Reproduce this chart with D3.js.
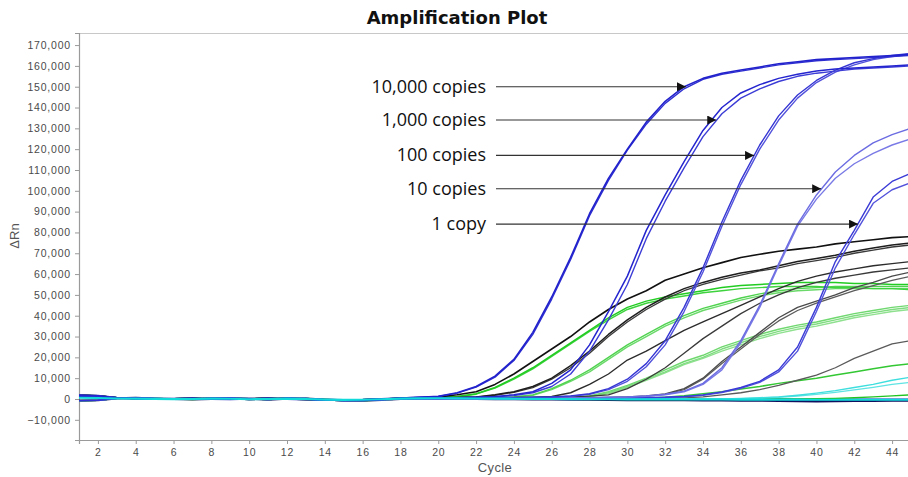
<!DOCTYPE html>
<html>
<head>
<meta charset="utf-8">
<script src="https://cdn.jsdelivr.net/npm/d3@7"></script>
<style>
  html, body { margin: 0; padding: 0; background: #fff; }
  svg { display: block; }
</style>
</head>
<body>
<svg id="chart" width="908" height="477"></svg>
<script>
// ΔRn readings in thousands; one entry per PCR cycle.
const UNIT = 1000;
const cycles = d3.range(1, 46);
const xTicks = d3.range(2, 46, 2);
const yTicks = d3.range(-10000, 170001, 10000);

// Flat baseline traces (cycles 1..45).
const baseA = [1.0, 0.8, 0.4, 0.3, 0.1, -0.1, 0.0, 0.3, 0.2, -0.2, 0.0, 0.3, 0.0, -0.5, -0.7, -0.6, -0.2, 0.3, 0.5, 0.6, 0.5, 0.4, 0.3, 0.2, 0.1, 0.0, -0.1, -0.2, -0.2, -0.3, -0.3, -0.3, -0.4, -0.4, -0.4, -0.5, -0.5, -0.5, -0.5, -0.6, -0.6, -0.6, -0.6, -0.6, -0.6];
const baseB = [-0.8, -0.6, 0.3, 0.5, 0.2, 0.0, -0.2, 0.1, 0.4, 0.1, -0.3, 0.2, 0.2, -0.3, -0.6, -0.8, -0.4, 0.1, 0.3, 0.2, 0.1, 0.0, -0.1, -0.1, -0.2, -0.2, -0.3, -0.3, -0.4, -0.5, -0.5, -0.6, -0.6, -0.7, -0.7, -0.8, -0.8, -0.9, -1.0, -1.1, -1.0, -0.9, -0.9, -0.8, -0.8];
const baseC = [1.8, 1.5, 0.6, 0.2, 0.0, 0.1, 0.3, 0.0, -0.1, 0.1, 0.3, 0.0, -0.2, -0.4, -0.5, -0.4, 0.0, 0.4, 0.7, 0.9, 0.8, 0.6, 0.5, 0.4, 0.3, 0.2, 0.2, 0.1, 0.1, 0.0, 0.0, 0.0, 0.0, -0.1, -0.1, -0.1, -0.1, -0.1, -0.2, -0.2, -0.2, -0.2, -0.2, -0.2, -0.2];

// Amplifying traces: cycles 18..45 (earlier cycles follow the named baseline).
const blue10000a = [0.5, 0.8, 1.3, 3, 6, 11, 19, 32, 49, 68, 89, 106, 120, 133, 143, 150, 154, 156.5, 158, 159.5, 161, 162, 163, 163.5, 164, 164.5, 165, 165.5];
const blue10000b = [0.4, 0.7, 1.2, 2.8, 5.7, 10.5, 18.5, 31, 48, 67, 88, 105, 119.5, 132, 142, 149, 153.5, 156, 157.5, 159, 160.5, 161.5, 162.5, 163, 163.5, 164, 164.5, 165];
const blue1000a = [0.2, 0.3, 0.4, 0.6, 0.8, 1.2, 2, 3.5, 7.5, 14, 26, 42, 59, 81, 98, 114, 129, 140, 147, 151, 154, 156, 157.5, 158.5, 159, 159.5, 160, 160.5];
const blue1000b = [0.2, 0.3, 0.4, 0.5, 0.7, 1.0, 1.6, 3, 6, 12, 23, 38, 55, 77, 95, 111, 126, 137, 144.5, 149, 152.5, 155, 156.5, 157.5, 158.5, 159, 159.5, 160];
const blue100a = [0, 0.1, 0.2, 0.3, 0.4, 0.5, 0.6, 0.8, 1, 1.5, 2.5, 5, 9.5, 17, 28, 44, 63, 85, 105, 122, 136, 146, 153, 158, 161.5, 163.5, 165, 166];
const blue100b = [0, 0.1, 0.2, 0.2, 0.3, 0.4, 0.5, 0.7, 0.9, 1.3, 2.2, 4.5, 8.5, 15.5, 26, 42, 61, 83, 103, 120, 134, 144.5, 152, 157, 160.5, 163, 164.5, 165.5];
const blue10a = [0, 0, 0.1, 0.1, 0.2, 0.2, 0.3, 0.3, 0.4, 0.5, 0.6, 0.8, 1, 1.5, 2.3, 3.8, 7.5, 15, 28, 45, 65, 84, 98, 109, 117, 123, 127, 130];
const blue10b = [0, 0, 0.1, 0.1, 0.1, 0.2, 0.2, 0.3, 0.3, 0.4, 0.5, 0.7, 0.9, 1.3, 2, 3.4, 7, 14, 27, 44, 64, 83, 96, 106, 113, 118, 122, 125];
const blue1a = [0, 0, 0, 0.1, 0.1, 0.1, 0.2, 0.2, 0.3, 0.3, 0.4, 0.5, 0.6, 0.7, 0.8, 1.2, 2, 3.4, 5.5, 8.5, 14, 25, 44, 66, 81, 97, 104.5, 108.5];
const blue1b = [0, 0, 0, 0, 0.1, 0.1, 0.1, 0.2, 0.2, 0.3, 0.3, 0.4, 0.5, 0.6, 0.7, 1.0, 1.8, 3.1, 5.1, 8, 13, 23, 42, 63, 79, 94, 100.5, 104];

const black1 = [0.3, 0.5, 1, 2, 3.5, 7, 12, 18, 24, 30, 37, 43, 48, 52, 57, 60, 63, 65.5, 68, 69.5, 71, 72, 73, 74.5, 75.5, 76.5, 77.5, 78];
const black2a = [0.2, 0.3, 0.5, 0.7, 1, 2, 3.5, 6, 10, 16, 23, 31, 38, 44, 49, 53, 56, 58.5, 60.5, 62, 64, 66, 67.5, 69, 71, 72.5, 74, 75];
const black2b = [0.2, 0.3, 0.4, 0.6, 0.9, 1.8, 3.2, 5.5, 9.5, 15, 22, 30, 37, 43, 48, 52, 55, 57.5, 59.5, 61.5, 63, 65, 66.5, 68, 70, 71.5, 73, 74];
const black3a = [0, 0.1, 0.2, 0.3, 0.4, 0.5, 0.7, 0.9, 1.2, 3, 7, 12, 18.7, 23, 28, 33, 37, 41, 45, 49, 53, 56.5, 59, 61, 62.5, 64, 65, 66];
const black3b = [0, 0.1, 0.1, 0.2, 0.3, 0.4, 0.5, 0.6, 0.8, 1, 1.4, 2, 5, 9.5, 15, 22, 29, 35, 41, 46, 50, 53.5, 56, 58, 59.5, 61, 62, 63];
const black4a = [0, 0, 0.1, 0.1, 0.2, 0.2, 0.3, 0.3, 0.4, 0.5, 0.6, 0.8, 1, 1.5, 2.5, 5, 10, 18, 25, 32, 39, 44, 47, 50, 53.5, 56, 59, 61];
const black4b = [0, 0, 0, 0.1, 0.1, 0.2, 0.2, 0.3, 0.3, 0.4, 0.5, 0.7, 0.9, 1.3, 2.2, 4.5, 9.5, 17, 24, 31, 37.5, 42.5, 46, 49, 52, 54.5, 57, 59];
const black5 = [0, 0, 0, 0, 0.1, 0.1, 0.1, 0.2, 0.2, 0.2, 0.3, 0.3, 0.4, 0.4, 0.5, 0.5, 1, 2, 3, 4.5, 6.5, 9, 11.5, 15, 19.5, 23, 26.5, 28];

const green1a = [0.2, 0.3, 0.5, 1.2, 2.5, 5.5, 10, 15, 21, 27, 33, 39, 44, 47, 49, 50.5, 52, 53.5, 54.5, 55, 55.5, 56, 56, 56, 55.5, 55.5, 55, 55];
const green1b = [0.2, 0.3, 0.5, 1.1, 2.3, 5.2, 9.5, 14.5, 20.5, 26.5, 32.5, 38, 43, 46, 48, 49.5, 51, 52, 53, 53.5, 54, 54, 54, 53.5, 53.5, 53, 53, 52.5];
const green2a = [0, 0.1, 0.2, 0.3, 0.4, 0.6, 1, 2, 5, 9, 14, 20, 26, 31, 36, 40, 43.5, 46, 48.5, 50.5, 52, 53, 53.5, 54, 54, 54, 54, 54];
const green2b = [0, 0.1, 0.1, 0.2, 0.3, 0.5, 0.9, 1.8, 4.5, 8.5, 13, 19, 25, 30, 35, 39, 42.5, 45, 47.5, 49.5, 51, 52, 52.5, 53, 53, 53, 53, 53];
const green3a = [0, 0, 0.1, 0.1, 0.2, 0.2, 0.3, 0.3, 0.4, 0.5, 1.5, 3.5, 6.5, 10, 14, 18, 21, 25, 28, 31, 33.5, 35.5, 37, 39, 41, 42.5, 44, 45];
const green3b = [0, 0, 0.1, 0.1, 0.1, 0.2, 0.2, 0.3, 0.3, 0.4, 1.2, 3, 6, 9.5, 13, 17, 20, 24, 27, 30, 32.5, 34.5, 36, 38, 40, 41.5, 43, 44];
const green3c = [0, 0, 0, 0.1, 0.1, 0.2, 0.2, 0.2, 0.3, 0.4, 1, 2.6, 5.5, 9, 12.5, 16.5, 19.5, 23, 26, 29, 31.5, 33.5, 35, 37, 39, 40.5, 42, 43];
const green4 = [0, 0, 0, 0, 0.1, 0.1, 0.1, 0.1, 0.2, 0.2, 0.2, 0.2, 0.2, 0.3, 0.8, 1.5, 2.5, 3.5, 4.8, 6, 7.5, 8.8, 10, 11.5, 13, 14.5, 16, 17];
const green5 = [0, 0, 0, 0, 0, 0, 0, 0, 0, 0, 0, 0, 0, 0, 0, 0, 0, 0, 0, 0, 0, 0, 0.1, 0.3, 0.6, 1, 1.5, 2];

const cyan1 = [0, 0, 0, 0, 0, 0, 0, 0, 0, 0, 0, 0, 0, 0, 0, 0, 0, 0, 0.3, 0.6, 1, 1.8, 2.8, 4, 5.5, 7, 9, 10.5];
const cyan2 = [0, 0, 0, 0, 0, 0, 0, 0, 0, 0, 0, 0, 0, 0, 0, 0, 0, 0, 0.1, 0.4, 0.8, 1.4, 2.2, 3.2, 4.4, 5.6, 7, 8];

// Arrow annotations: label, tip cycle, tip ΔRn (thousands).
const noteLabels = ["10,000 copies", "1,000 copies", "100 copies", "10 copies", "1 copy"];
const noteTipCycle = [33.1, 34.7, 36.7, 40.25, 42.2];
const noteTipValue = [150, 134, 117, 101, 84];

const amp = (base, tail) => base.slice(0, 17).concat(tail);

// Draw order: flat traces first, then green, black and blue.
const traces = [
  { v: baseB, color: "#101060", w: 2.2 },
  { v: baseA, color: "#1b1b1b", w: 1.6 },
  { v: baseC, color: "#1f1fb8", w: 2.0 },
  { v: amp(baseA, green5), color: "#22c422", w: 1.4 },
  { v: amp(baseC, green4), color: "#33c833", w: 1.5 },
  { v: amp(baseB, green3c), color: "#8fe08f", w: 1.4 },
  { v: amp(baseA, green3b), color: "#80dc80", w: 1.4 },
  { v: amp(baseC, green3a), color: "#6fd86f", w: 1.4 },
  { v: amp(baseB, green2b), color: "#6ad96a", w: 1.4 },
  { v: amp(baseA, green2a), color: "#4fd34f", w: 1.4 },
  { v: amp(baseC, green1b), color: "#3ed33e", w: 1.4 },
  { v: amp(baseB, green1a), color: "#22cc22", w: 1.5 },
  { v: amp(baseA, black5), color: "#5a5a5a", w: 1.3 },
  { v: amp(baseC, black4b), color: "#5c5c5c", w: 1.3 },
  { v: amp(baseB, black4a), color: "#4a4a4a", w: 1.3 },
  { v: amp(baseA, black3b), color: "#3a3a3a", w: 1.3 },
  { v: amp(baseC, black3a), color: "#2c2c2c", w: 1.4 },
  { v: amp(baseB, black2b), color: "#3a3a3a", w: 1.3 },
  { v: amp(baseA, black2a), color: "#1e1e1e", w: 1.5 },
  { v: amp(baseC, black1), color: "#111111", w: 1.6 },
  { v: amp(baseA, cyan2), color: "#5fe3e3", w: 1.4 },
  { v: amp(baseB, cyan1), color: "#3fdede", w: 1.4 },
  { v: amp(baseA, blue1b), color: "#5252dc", w: 1.4 },
  { v: amp(baseC, blue1a), color: "#3a3ad6", w: 1.4 },
  { v: amp(baseB, blue10b), color: "#7a7ae6", w: 1.4 },
  { v: amp(baseA, blue10a), color: "#6c6ce2", w: 1.4 },
  { v: amp(baseC, blue100b), color: "#5252dc", w: 1.4 },
  { v: amp(baseB, blue100a), color: "#3535d4", w: 1.4 },
  { v: amp(baseA, blue1000b), color: "#3c3cd6", w: 1.4 },
  { v: amp(baseC, blue1000a), color: "#2525cf", w: 1.5 },
  { v: amp(baseB, blue10000b), color: "#3030d2", w: 1.4 },
  { v: amp(baseA, blue10000a), color: "#2222cc", w: 1.6 },
  { v: baseA.map(d => d * 0.6), color: "#10dada", w: 2.2 }
];

const svg = d3.select("#chart");
const plot = { left: 79, top: 33, right: 911, bottom: 440 };

const x = d3.scaleLinear().domain([1, 45]).range([plot.left, plot.right]);
const y = d3.scaleLinear().domain([-19700, 175800]).range([plot.bottom, plot.top]);

svg.append("defs").append("clipPath").attr("id", "plotClip")
  .append("rect")
  .attr("x", plot.left).attr("y", plot.top)
  .attr("width", plot.right - plot.left).attr("height", plot.bottom - plot.top);

// Frame
svg.append("rect")
  .attr("x", plot.left + 0.5).attr("y", plot.top + 0.5)
  .attr("width", plot.right - plot.left).attr("height", plot.bottom - plot.top)
  .attr("fill", "none").attr("stroke", "#c8c8c8").attr("stroke-width", 1);

// Axes
const tickFont = "'Liberation Sans', Arial, sans-serif";
const yAxis = svg.append("g")
  .attr("transform", `translate(${plot.left},0)`)
  .call(d3.axisLeft(y).tickValues(yTicks).tickSize(4).tickPadding(4).tickFormat(d3.format(",")));
const xAxis = svg.append("g")
  .attr("transform", `translate(0,${plot.bottom})`)
  .call(d3.axisBottom(x).tickValues(xTicks).tickSize(4).tickPadding(5));

[yAxis, xAxis].forEach(g => {
  g.select(".domain").attr("stroke", "#9a9a9a").attr("stroke-width", 1.2);
  g.selectAll(".tick line").attr("stroke", "#9a9a9a");
  g.selectAll(".tick text")
    .attr("fill", "#4a4a4a")
    .style("font-family", tickFont)
    .style("font-size", "10.5px")
    .style("letter-spacing", "0.8px");
});

// Amplification traces
const line = d3.line()
  .x((d, i) => x(cycles[i]))
  .y(d => y(d * UNIT));

svg.append("g").attr("clip-path", "url(#plotClip)")
  .selectAll("path")
  .data(traces)
  .join("path")
  .attr("d", d => line(d.v))
  .attr("fill", "none")
  .attr("stroke", d => d.color)
  .attr("stroke-width", d => d.w)
  .attr("stroke-linejoin", "round")
  .attr("stroke-linecap", "round");

// Arrow annotations
svg.select("defs").append("marker")
  .attr("id", "arrowHead")
  .attr("viewBox", "0 0 10 10")
  .attr("refX", 10).attr("refY", 5)
  .attr("markerWidth", 10).attr("markerHeight", 9)
  .attr("markerUnits", "userSpaceOnUse")
  .attr("orient", "auto")
  .append("path")
  .attr("d", "M0,0 L10,5 L0,10 Z")
  .attr("fill", "#111");

const notes = svg.append("g");
noteLabels.forEach((label, i) => {
  const ty = y(noteTipValue[i] * UNIT);
  notes.append("line")
    .attr("x1", 496).attr("y1", ty)
    .attr("x2", x(noteTipCycle[i])).attr("y2", ty)
    .attr("stroke", "#333").attr("stroke-width", 1.1)
    .attr("marker-end", "url(#arrowHead)");
  notes.append("text")
    .attr("x", 486).attr("y", ty + 6)
    .attr("text-anchor", "end")
    .attr("fill", "#111")
    .style("font-family", "'Open Sans', 'Noto Sans', sans-serif")
    .style("font-size", "18px")
    .text(label);
});

// Title and axis titles
svg.append("text")
  .attr("x", 457).attr("y", 24)
  .attr("text-anchor", "middle")
  .attr("fill", "#111")
  .style("font-family", "'DejaVu Sans', Verdana, sans-serif")
  .style("font-weight", "bold")
  .style("font-size", "18px")
  .text("Amplification Plot");

svg.append("text")
  .attr("x", 495).attr("y", 472)
  .attr("text-anchor", "middle")
  .attr("fill", "#555")
  .style("font-family", tickFont)
  .style("font-size", "13px")
  .style("letter-spacing", "0.4px")
  .text("Cycle");

svg.append("text")
  .attr("transform", "translate(19,236) rotate(-90)")
  .attr("text-anchor", "middle")
  .attr("fill", "#555")
  .style("font-family", tickFont)
  .style("font-size", "13px")
  .text("ΔRn");
</script>
</body>
</html>
